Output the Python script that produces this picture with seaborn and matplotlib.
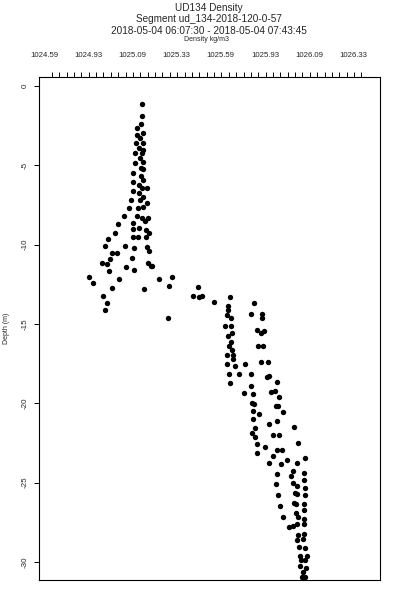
import matplotlib
matplotlib.use('Agg')
import matplotlib.pyplot as plt
import pandas as pd
import seaborn as sns
import numpy as np

# Density (kg/m3) and depth (m)
density = [
    1025.143, 1025.146, 1025.137, 1025.114, 1025.152, 1025.118, 1025.133, 1025.110, 1025.152, 1025.129,
    1025.152, 1025.106, 1025.143, 1025.133, 1025.106, 1025.152, 1025.137, 1025.152, 1025.095, 1025.137,
    1025.152, 1025.095, 1025.129, 1025.143, 1025.171, 1025.095, 1025.129, 1025.152, 1025.080, 1025.133,
    1025.171, 1025.072, 1025.123, 1025.152, 1025.042, 1025.114, 1025.143, 1025.180, 1025.161, 1025.010,
    1025.095, 1025.129, 1025.095, 1025.165, 1024.992, 1025.184, 1025.095, 1025.123, 1025.167, 1024.954,
    1024.935, 1025.048, 1025.099, 1025.171, 1025.184, 1024.973, 1025.001, 1024.916, 1024.948, 1024.963,
    1025.054, 1025.088, 1025.180, 1025.193, 1025.201, 1024.959, 1025.101, 1025.016, 1025.242, 1025.316,
    1024.975, 1025.154, 1025.299, 1025.459, 1025.431, 1025.468, 1025.482, 1025.553, 1024.925, 1024.945,
    1024.934, 1025.293, 1024.846, 1024.865,
    1025.642, 1025.778, 1025.632, 1025.632, 1025.627, 1025.646, 1025.759, 1025.821, 1025.821, 1025.614,
    1025.646, 1025.796, 1025.834, 1025.816, 1025.632, 1025.652, 1025.646, 1025.638, 1025.652, 1025.802,
    1025.830, 1025.627, 1025.661, 1025.661, 1025.816, 1025.859, 1025.623, 1025.670, 1025.727, 1025.638,
    1025.695, 1025.759, 1025.850, 1025.863, 1025.642, 1025.910, 1025.759, 1025.721, 1025.770, 1025.872,
    1025.897, 1025.919, 1025.765, 1025.778, 1025.902, 1025.915, 1025.774, 1025.806, 1025.940, 1025.774,
    1025.906, 1025.863, 1025.783, 1026.004,
    1025.765, 1025.783, 1025.887, 1025.921, 1025.796, 1026.025, 1025.840, 1025.793, 1025.906, 1025.934,
    1025.887, 1026.066, 1025.863, 1025.929, 1025.963, 1026.023, 1026.000, 1025.987, 1025.906, 1026.062,
    1025.997, 1025.902, 1026.023, 1026.062, 1026.066, 1026.010, 1026.023, 1026.066, 1025.915, 1025.925,
    1026.004, 1026.015, 1026.062, 1026.061, 1025.943, 1026.015, 1026.028, 1026.062, 1025.977, 1025.997,
    1026.023, 1026.062, 1026.028, 1026.062, 1026.019, 1026.057, 1026.034, 1026.066, 1026.038, 1026.076,
    1026.042, 1026.066, 1026.038, 1026.072, 1026.053, 1026.048, 1026.066, 1026.057,
]
depth = [
    -1.15, -1.89, -2.43, -2.68, -3.00, -3.10, -3.31, -3.63, -3.63, -3.94,
    -4.05, -4.26, -4.26, -4.57, -4.85, -4.79, -5.20, -5.26, -5.48, -5.69,
    -5.94, -6.05, -6.25, -6.46, -6.46, -6.61, -6.74, -6.99, -7.20, -7.20,
    -7.37, -7.72, -7.72, -7.62, -8.21, -8.21, -8.35, -8.35, -8.50, -8.73,
    -8.63, -8.98, -9.04, -9.09, -9.26, -9.29, -9.51, -9.51, -9.51, -9.65,
    -10.09, -10.09, -10.24, -10.14, -10.39, -10.52, -10.55, -11.15, -11.23, -10.93,
    -11.40, -10.87, -11.18, -11.34, -11.35, -11.65, -11.61, -12.17, -12.19, -12.07,
    -12.72, -12.82, -12.61, -12.68, -13.22, -13.29, -13.24, -13.62, -13.24, -13.70,
    -14.12, -14.63, -12.03, -12.44,
    -13.33, -13.67, -13.87, -14.12, -14.44, -14.61, -14.40, -14.40, -14.61, -15.11,
    -15.11, -15.38, -15.45, -15.59, -15.74, -15.59, -16.16, -16.37, -16.64, -16.39,
    -16.39, -16.96, -16.96, -17.21, -17.38, -17.42, -17.53, -17.65, -17.53, -18.17,
    -18.17, -18.17, -18.32, -18.28, -18.74, -18.68, -18.91, -19.33, -19.43, -19.27,
    -19.21, -19.62, -19.96, -20.06, -20.17, -20.17, -20.48, -20.69, -20.57, -21.01,
    -21.10, -21.32, -21.54, -21.51,
    -21.89, -22.14, -22.00, -22.00, -22.56, -22.48, -22.73, -23.15, -22.94, -22.94,
    -23.32, -23.46, -23.78, -23.82, -23.57, -23.78, -24.26, -24.58, -24.47, -24.41,
    -25.00, -25.08, -25.21, -24.83, -25.35, -25.63, -25.71, -25.77, -25.77, -26.47,
    -26.26, -26.36, -26.34, -26.72, -27.14, -26.93, -27.14, -27.29, -27.81, -27.73,
    -27.60, -27.62, -28.29, -28.23, -28.61, -28.56, -29.03, -29.13, -29.59, -29.59,
    -29.87, -29.87, -30.25, -30.39, -30.60, -30.92, -30.92, -31.08,
]

# Top axis labels as printed on the reference
x_tick_pos = [1024.59, 1024.84, 1025.09, 1025.34, 1025.59, 1025.84, 1026.09, 1026.34]
x_tick_labels = ['1024.59', '1024.93', '1025.09', '1025.33', '1025.59', '1025.93', '1026.09', '1026.33']
y_ticks = [0, -5, -10, -15, -20, -25, -30]

df = pd.DataFrame({'density': density, 'depth': depth})

sns.set_style('white')
plt.rcParams['font.family'] = ['Liberation Sans', 'DejaVu Sans']

fig = plt.figure(figsize=(4, 6), dpi=100)
ax = fig.add_axes([0.0975, 0.0333, 0.8525, 0.8384])

sns.scatterplot(data=df, x='density', y='depth', ax=ax, color='black',
                marker='o', s=15, linewidth=0, legend=False)

ax.set_xlim(1024.562, 1026.490)
ax.set_ylim(-31.13, 0.55)

# top axis: labels without marks, row of small minor ticks
ax.xaxis.tick_top()
ax.set_xticks(x_tick_pos)
ax.set_xticklabels(x_tick_labels)
ax.set_xticks(np.arange(1024.635, 1026.40, 0.25 / 6), minor=True)
ax.tick_params(axis='x', which='major', length=0, pad=13, labelsize=5.6)
ax.tick_params(axis='x', which='minor', length=3.6, width=0.7, direction='out',
               color='black', top=True, bottom=False)

ax.set_yticks(y_ticks)
ax.set_yticklabels([str(v) for v in y_ticks], rotation=90, va='center')
ax.tick_params(axis='y', which='major', length=3.6, width=0.7, direction='out',
               color='black', left=True, pad=4, labelsize=5.8)

for sp in ax.spines.values():
    sp.set_visible(True)
    sp.set_color('black')
    sp.set_linewidth(0.8)

ax.set_xlabel('')
ax.set_ylabel('Depth (m)', fontsize=5)
ax.yaxis.set_label_coords(-0.085, 0.5)

fig.text(0.523, 1 - 8 / 600, 'UD134 Density', ha='center', va='center', fontsize=7.2)
fig.text(0.523, 1 - 19 / 600, 'Segment ud_134-2018-120-0-57', ha='center', va='center', fontsize=7.2)
fig.text(0.523, 1 - 31 / 600, '2018-05-04 06:07:30 - 2018-05-04 07:43:45',
         ha='center', va='center', fontsize=7.2)
fig.text(0.515, 1 - 39.5 / 600, 'Density kg/m3', ha='center', va='center', fontsize=5)

fig.savefig('out.png', dpi=100)
